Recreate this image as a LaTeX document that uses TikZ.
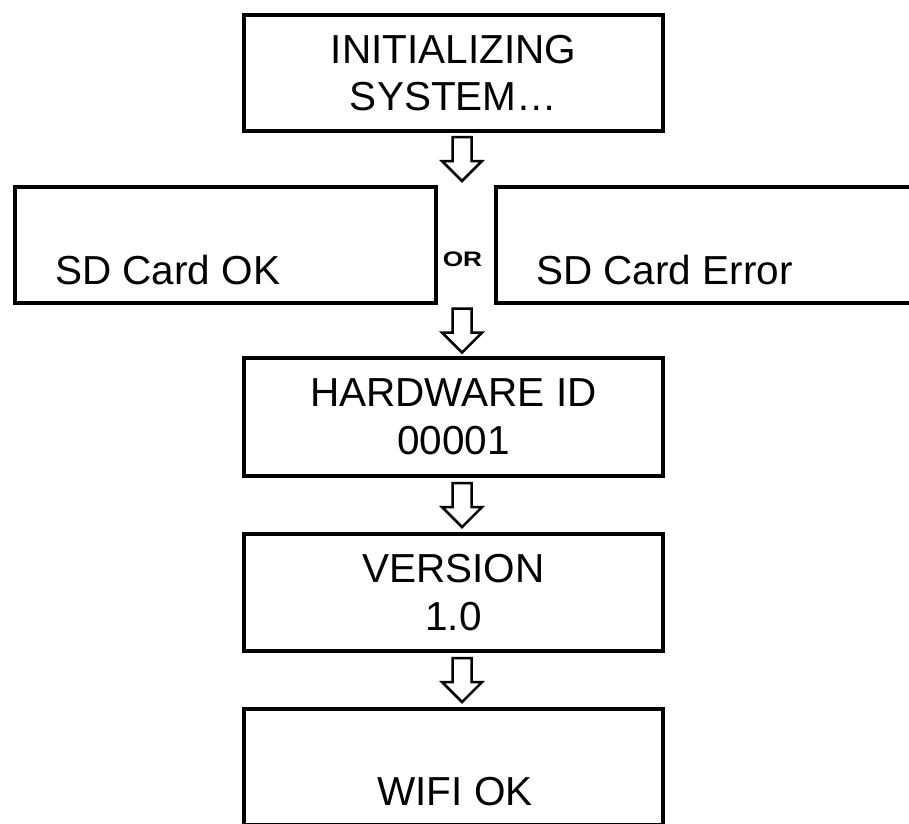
\documentclass[tikz,border=0pt]{standalone}
\usepackage{fontspec}
\setmainfont{Liberation Sans}
\usetikzlibrary{calc}
\begin{document}
\begin{tikzpicture}[x=1pt, y=-1pt,
  box/.style={draw, line width=4pt, minimum width=419pt, minimum height=116pt,
              inner sep=0pt, align=center, font=\fontsize{40.5}{47.5}\selectfont},
  lbl/.style={inner sep=0pt, font=\fontsize{40.5}{47.5}\selectfont},
  blockarrow/.pic={
    \draw[line width=2.5pt, line join=miter, fill=white]
      (-9.5,-22) -- (9.5,-22) -- (9.5,2) -- (20,2) -- (0,22) -- (-20,2) -- (-9.5,2) -- cycle;
  }]
  \useasboundingbox (0,0) rectangle (909,823);
  \clip (0,0) rectangle (909,823);

  % boxes
  \node[box] (init) at (453.5,73) {INITIALIZING\\SYSTEM\ldots};
  \node[box, minimum width=421pt] (sdok)  at (225.5,245) {};
  \node[box, minimum width=421pt] (sderr) at (706.5,245) {};
  \node[box, minimum height=118pt] (hwid) at (453.5,417) {HARDWARE ID\\00001};
  \node[box, minimum height=117pt] (ver)  at (453.5,592.5) {VERSION\\1.0};
  \node[box] (wifi) at (453.5,767) {};

  % box texts sitting low in their boxes
  \node[lbl, anchor=base west] (sdoktxt)  at (55,284)  {SD Card OK};
  \node[lbl, anchor=base west] (sderrtxt) at (536,284) {SD Card Error};
  \node[lbl, anchor=base]      (wifitxt)  at (455,805) {WIFI OK};

  % alternative marker between the two SD boxes
  \node[inner sep=0pt, anchor=base, font=\fontsize{21}{24}\selectfont\bfseries] (or)
    at (462.5,266) {\scalebox{1.25}[1]{OR}};

  % block arrows between consecutive stages
  \pic at ($(init.south)!0.5!(init.south |- sdok.north) + (8.5,0)$) {blockarrow};
  \pic at ($(hwid.north)!0.5!(hwid.north |- sdok.south) + (8.5,0)$) {blockarrow};
  \pic at ($(hwid.south)!0.5!(ver.north) + (8.5,0)$) {blockarrow};
  \pic at ($(ver.south)!0.5!(wifi.north) + (8.5,0)$) {blockarrow};
\end{tikzpicture}
\end{document}
